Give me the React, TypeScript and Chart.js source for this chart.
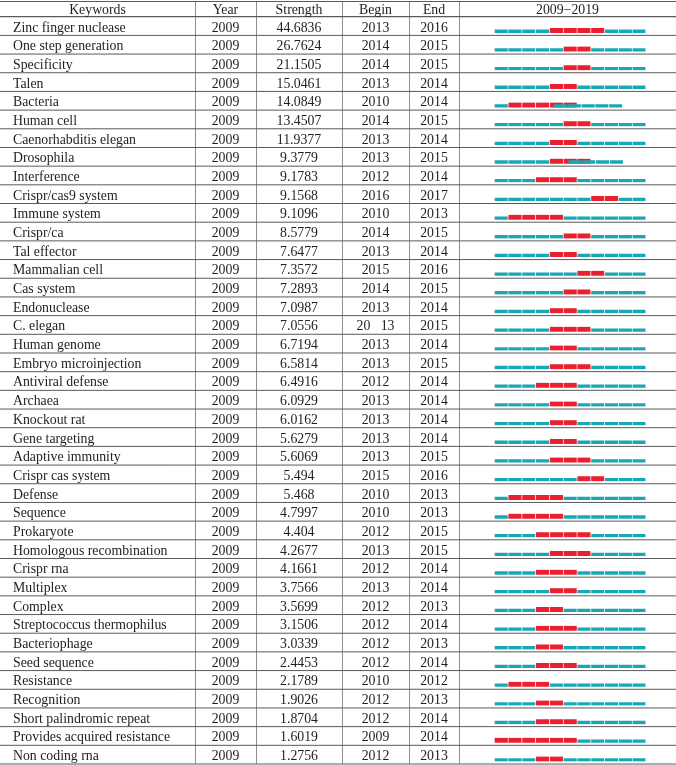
import React, { useEffect, useRef } from "react";
import { Chart, registerables } from "chart.js";

Chart.register(...registerables);

const keywords = [
  "Zinc finger nuclease", "One step generation", "Specificity", "Talen", "Bacteria",
  "Human cell", "Caenorhabditis elegan", "Drosophila", "Interference", "Crispr/cas9 system",
  "Immune system", "Crispr/ca", "Tal effector", "Mammalian cell", "Cas system",
  "Endonuclease", "C. elegan", "Human genome", "Embryo microinjection", "Antiviral defense",
  "Archaea", "Knockout rat", "Gene targeting", "Adaptive immunity", "Crispr cas system",
  "Defense", "Sequence", "Prokaryote", "Homologous recombination", "Crispr rna",
  "Multiplex", "Complex", "Streptococcus thermophilus", "Bacteriophage", "Seed sequence",
  "Resistance", "Recognition", "Short palindromic repeat", "Provides acquired resistance", "Non coding rna",
];

const years = [
  2009, 2009, 2009, 2009, 2009, 2009, 2009, 2009, 2009, 2009,
  2009, 2009, 2009, 2009, 2009, 2009, 2009, 2009, 2009, 2009,
  2009, 2009, 2009, 2009, 2009, 2009, 2009, 2009, 2009, 2009,
  2009, 2009, 2009, 2009, 2009, 2009, 2009, 2009, 2009, 2009,
];

const strengths = [
  44.6836, 26.7624, 21.1505, 15.0461, 14.0849, 13.4507, 11.9377, 9.3779, 9.1783, 9.1568,
  9.1096, 8.5779, 7.6477, 7.3572, 7.2893, 7.0987, 7.0556, 6.7194, 6.5814, 6.4916,
  6.0929, 6.0162, 5.6279, 5.6069, 5.494, 5.468, 4.7997, 4.404, 4.2677, 4.1661,
  3.7566, 3.5699, 3.1506, 3.0339, 2.4453, 2.1789, 1.9026, 1.8704, 1.6019, 1.2756,
];

const begins = [
  2013, 2014, 2014, 2013, 2010, 2014, 2013, 2013, 2012, 2016,
  2010, 2014, 2013, 2015, 2014, 2013, 2013, 2013, 2013, 2012,
  2013, 2013, 2013, 2013, 2015, 2010, 2010, 2012, 2013, 2012,
  2013, 2012, 2012, 2012, 2012, 2010, 2012, 2012, 2009, 2012,
];

const ends = [
  2016, 2015, 2015, 2014, 2014, 2015, 2014, 2015, 2014, 2017,
  2013, 2015, 2014, 2016, 2015, 2014, 2015, 2014, 2015, 2014,
  2014, 2014, 2014, 2015, 2016, 2013, 2013, 2015, 2015, 2014,
  2014, 2013, 2014, 2013, 2014, 2012, 2013, 2014, 2014, 2013,
];

// Begin cell printed with a gap in the source table
const beginLabelOverrides: Record<number, string> = { 16: "20   13" };

// Rows whose trailing (post-burst) line is printed shifted left (in years)
const tailShift = [
  0, 0, 0, 0, -1.7, 0, 0, -1.65, 0, 0,
  0, 0, 0, 0, 0, 0, 0, 0, 0, 0,
  0, 0, 0, 0, 0, 0, 0, 0, 0, 0,
  0, 0, 0, 0, 0, 0, 0, 0, 0, 0,
];

const periodStart = 2009;
const periodEnd = 2019;

const headers = ["Keywords", "Year", "Strength", "Begin", "End", `${periodStart}\u2212${periodEnd}`];

const W = 676;
const H = 765;
const colEdges = [0, 195, 256, 342, 409, 459, 676];
const tableTop = 1.5;
const headerBottom = 16.7;
const tableBottom = 764;
const barOffsetRows = 0.233;
const FONT = "13.8px 'Liberation Serif', 'Times New Roman', serif";
const CYAN = "#17a8b6";
const RED = "#ea1f2f";

export default function App() {
  const ref = useRef<HTMLCanvasElement | null>(null);

  useEffect(() => {
    if (!ref.current) return;
    const n = keywords.length;
    const cyanPts: any[] = [];
    const redPts: any[] = [];
    const shiftPts: any[] = [];
    keywords.forEach((_, i) => {
      for (let yr = periodStart; yr <= periodEnd; yr++) {
        if (yr >= begins[i] && yr <= ends[i]) redPts.push({ x: [yr, yr + 1], y: i });
        else if (yr > ends[i] && tailShift[i] !== 0)
          shiftPts.push({ x: [yr + tailShift[i], yr + 1 + tailShift[i]], y: i });
        else cyanPts.push({ x: [yr, yr + 1], y: i });
      }
    });

    const common = {
      barThickness: 5,
      grouped: false,
      borderSkipped: false,
      borderColor: "rgba(255,255,255,0)",
    };

    const tablePlugin = {
      id: "tablePlugin",
      beforeDraw(chart: any) {
        const ctx = chart.ctx as CanvasRenderingContext2D;
        const area = chart.chartArea;
        const rowH = (area.bottom - area.top) / n;
        ctx.save();
        ctx.fillStyle = "#ffffff";
        ctx.fillRect(0, 0, W, H);

        // vertical lines
        ctx.strokeStyle = "#8f8f8f";
        ctx.lineWidth = 1;
        for (let c = 1; c < colEdges.length - 1; c++) {
          ctx.beginPath();
          ctx.moveTo(colEdges[c] + 0.5, tableTop);
          ctx.lineTo(colEdges[c] + 0.5, tableBottom);
          ctx.stroke();
        }
        // horizontal lines
        ctx.strokeStyle = "#5a5a5a";
        ctx.lineWidth = 1.2;
        const hline = (y: number) => {
          ctx.beginPath();
          ctx.moveTo(0, y);
          ctx.lineTo(W, y);
          ctx.stroke();
        };
        hline(tableTop);
        hline(area.top);
        ctx.lineWidth = 1;
        for (let i = 1; i < n; i++) hline(area.top + i * rowH);
        ctx.lineWidth = 1.2;
        hline(area.bottom);

        // text
        ctx.font = FONT;
        ctx.fillStyle = "#1e1e1e";
        ctx.textBaseline = "alphabetic";
        ctx.textAlign = "center";
        headers.forEach((h, c) => {
          ctx.fillText(h, (colEdges[c] + colEdges[c + 1]) / 2, tableTop + 12.4);
        });
        for (let i = 0; i < n; i++) {
          const base = area.top + i * rowH + 14.8;
          ctx.textAlign = "left";
          ctx.fillText(keywords[i], colEdges[0] + 13, base);
          ctx.textAlign = "center";
          const cells = [
            String(years[i]),
            String(strengths[i]),
            beginLabelOverrides[i] ?? String(begins[i]),
            String(ends[i]),
          ];
          cells.forEach((t, k) => {
            ctx.fillText(t, (colEdges[k + 1] + colEdges[k + 2]) / 2, base);
          });
        }
        ctx.restore();
      },
    };

    const chart = new Chart(ref.current, {
      type: "bar",
      data: {
        datasets: [
          {
            ...common,
            label: "shifted",
            data: shiftPts,
            backgroundColor: CYAN,
            borderWidth: { top: 2, left: 1, right: 0, bottom: 0 },
            order: 0,
          },
          {
            ...common,
            label: "burst",
            data: redPts,
            backgroundColor: RED,
            borderWidth: { top: 0, left: 1, right: 0, bottom: 0 },
            order: 1,
          },
          {
            ...common,
            label: "line",
            data: cyanPts,
            backgroundColor: CYAN,
            borderWidth: { top: 2, left: 1, right: 0, bottom: 0 },
            order: 2,
          },
        ] as any,
      },
      options: {
        indexAxis: "y",
        responsive: false,
        animation: false,
        devicePixelRatio: 1,
        layout: {
          padding: {
            left: 494,
            right: W - 645.7,
            top: headerBottom,
            bottom: H - tableBottom,
          },
        },
        plugins: { legend: { display: false }, tooltip: { enabled: false } },
        scales: {
          x: {
            type: "linear",
            min: periodStart,
            max: periodEnd + 1,
            offset: false,
            display: false,
          },
          y: {
            type: "linear",
            reverse: true,
            offset: false,
            min: -0.5 - barOffsetRows,
            max: n - 0.5 - barOffsetRows,
            display: false,
          },
        },
      } as any,
      plugins: [tablePlugin],
    });
    return () => chart.destroy();
  }, []);

  return (
    <div style={{ position: "absolute", left: 0, top: 0, width: W, height: H }}>
      <canvas ref={ref} width={W} height={H} style={{ display: "block" }} />
    </div>
  );
}
